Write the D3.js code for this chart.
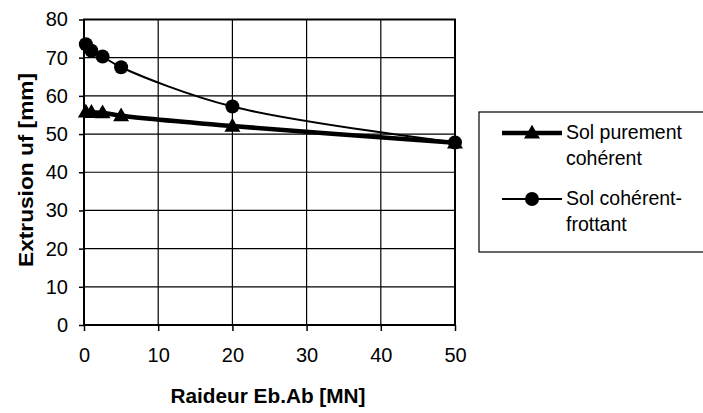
<!DOCTYPE html>
<html><head><meta charset="utf-8">
<script src="https://cdn.jsdelivr.net/npm/d3@7"></script>
<style>body{margin:0;background:#fff}svg{display:block}text{font-family:"Liberation Sans",Arial,sans-serif;fill:#000}</style>
</head><body><svg id="c" width="703" height="413"></svg>
<script>
const xValues = [0.25, 1, 2.5, 5, 20, 50];
const seriesNames = ["Sol purement cohérent", "Sol cohérent-frottant"];
const purementCoherent = [55.8, 55.7, 55.6, 54.8, 52.1, 47.7];
const coherentFrottant = [73.5, 71.8, 70.3, 67.5, 57.2, 47.8];
const xTicks = [0, 10, 20, 30, 40, 50];
const yTicks = [0, 10, 20, 30, 40, 50, 60, 70, 80];
const xTitle = "Raideur Eb.Ab [MN]";
const yTitle = "Extrusion uf [mm]";

const svg = d3.select("#c");
const L = 84, R = 455, T = 19.5, B = 325;
const x = d3.scaleLinear().domain([0, 50]).range([L, R]);
const y = d3.scaleLinear().domain([0, 80]).range([B, T]);

// grid
svg.append("g").selectAll("line").data(yTicks).join("line")
  .attr("x1", L).attr("x2", R).attr("y1", d => y(d)).attr("y2", d => y(d))
  .attr("stroke", "#000").attr("stroke-width", 1.2);
svg.append("g").selectAll("line").data(xTicks).join("line")
  .attr("y1", T).attr("y2", B).attr("x1", d => x(d)).attr("x2", d => x(d))
  .attr("stroke", "#000").attr("stroke-width", 1.2);
// border
svg.append("rect").attr("x", L).attr("y", T).attr("width", R - L).attr("height", B - T)
  .attr("fill", "none").attr("stroke", "#000").attr("stroke-width", 2);

// axes
const yAxis = svg.append("g").attr("transform", `translate(${L},0)`)
  .call(d3.axisLeft(y).tickValues(yTicks).tickSize(5).tickPadding(11));
const xAxis = svg.append("g").attr("transform", `translate(0,${B})`)
  .call(d3.axisBottom(x).tickValues(xTicks).tickSize(6).tickPadding(17));
[yAxis, xAxis].forEach(a => {
  a.select(".domain").remove();
  a.selectAll("line").attr("stroke", "#000").attr("stroke-width", 1.5);
  a.selectAll("text").attr("font-size", 20).attr("font-family", '"Liberation Sans",Arial,sans-serif').attr("fill", "#000");
});

// titles
svg.append("text").attr("x", 268).attr("y", 403).attr("text-anchor", "middle")
  .attr("font-size", 21).attr("font-weight", "bold")
  .attr("textLength", 195).attr("lengthAdjust", "spacingAndGlyphs").text(xTitle);
svg.append("text").attr("transform", "translate(33,170) rotate(-90)").attr("text-anchor", "middle")
  .attr("font-size", 21).attr("font-weight", "bold")
  .attr("textLength", 194).attr("lengthAdjust", "spacingAndGlyphs").text(yTitle);

const line = d3.line().x(d => x(d[0])).y(d => y(d[1])).curve(d3.curveCatmullRom.alpha(0.5));
const triData = xValues.map((v, i) => [v, purementCoherent[i]]);
const cirData = xValues.map((v, i) => [v, coherentFrottant[i]]);
const tri = d3.symbol().type(d3.symbolTriangle).size(110);

svg.append("path").attr("d", line(cirData)).attr("fill", "none").attr("stroke", "#000").attr("stroke-width", 2);
svg.append("g").selectAll("circle").data(cirData).join("circle")
  .attr("cx", d => x(d[0])).attr("cy", d => y(d[1])).attr("r", 7).attr("fill", "#000");
svg.append("path").attr("d", line(triData)).attr("fill", "none").attr("stroke", "#000").attr("stroke-width", 4.5);
svg.append("g").selectAll("path").data(triData).join("path")
  .attr("d", tri).attr("transform", d => `translate(${x(d[0])},${y(d[1]) + 1})`).attr("fill", "#000");

// legend
const lg = svg.append("g");
lg.append("rect").attr("x", 479).attr("y", 112).attr("width", 240).attr("height", 140)
  .attr("fill", "none").attr("stroke", "#000").attr("stroke-width", 1.2);
const legendLines = [["Sol purement", "cohérent"], ["Sol cohérent-", "frottant"]];
const ly = [133, 199];
[0, 1].forEach(i => {
  lg.append("line").attr("x1", 502).attr("x2", 562).attr("y1", ly[i]).attr("y2", ly[i])
    .attr("stroke", "#000").attr("stroke-width", i === 0 ? 4.5 : 2);
  if (i === 0) lg.append("path").attr("d", tri).attr("transform", `translate(532,${ly[i] + 1})`);
  else lg.append("circle").attr("cx", 532).attr("cy", ly[i]).attr("r", 7);
  legendLines[i].forEach((t, j) => {
    lg.append("text").attr("x", 566).attr("y", ly[i] + 6 + j * 25.5).attr("font-size", 19.5).text(t);
  });
});
</script></body></html>
